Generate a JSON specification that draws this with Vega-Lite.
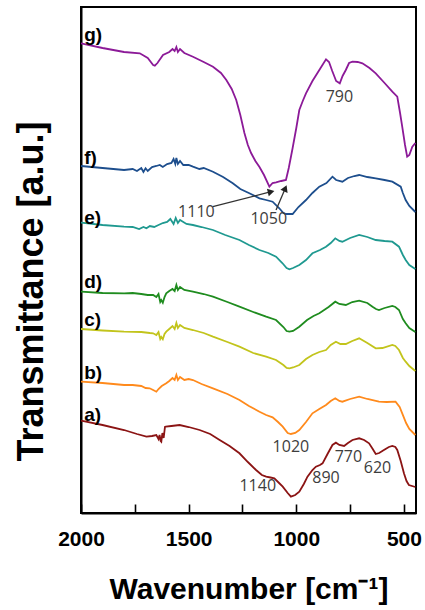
{
  "$schema": "https://vega.github.io/schema/vega-lite/v6.json",
  "width": 335,
  "height": 506,
  "autosize": {"type": "none"},
  "padding": {"left": 81, "top": 7, "right": 9, "bottom": 97},
  "background": "white",
  "config": {
    "view": {"stroke": "black", "strokeWidth": 2},
    "axis": {"grid": false, "domainColor": "black", "domainWidth": 2}
  },
  "datasets": {
    "curves": [
      {"s":"g","wn":2000,"t":469.7},{"s":"g","wn":1900,"t":465},{"s":"g","wn":1800,"t":461},{"s":"g","wn":1727,"t":459.7},{"s":"g","wn":1690,"t":455},{"s":"g","wn":1665,"t":448},{"s":"g","wn":1657,"t":447.3},{"s":"g","wn":1645,"t":450},{"s":"g","wn":1619,"t":458},{"s":"g","wn":1590,"t":461},{"s":"g","wn":1575,"t":464},{"s":"g","wn":1565,"t":462},{"s":"g","wn":1557,"t":466},{"s":"g","wn":1550,"t":461},{"s":"g","wn":1540,"t":464},{"s":"g","wn":1520,"t":460},{"s":"g","wn":1480,"t":456.3},{"s":"g","wn":1430,"t":451},{"s":"g","wn":1387,"t":446.3},{"s":"g","wn":1350,"t":440},{"s":"g","wn":1325,"t":433},{"s":"g","wn":1300,"t":424},{"s":"g","wn":1279,"t":413},{"s":"g","wn":1260,"t":398},{"s":"g","wn":1241,"t":380},{"s":"g","wn":1225,"t":368},{"s":"g","wn":1210,"t":360},{"s":"g","wn":1190,"t":352},{"s":"g","wn":1171,"t":346},{"s":"g","wn":1150,"t":338},{"s":"g","wn":1125,"t":326.3},{"s":"g","wn":1110,"t":330},{"s":"g","wn":1094,"t":330.7},{"s":"g","wn":1070,"t":332},{"s":"g","wn":1048,"t":333},{"s":"g","wn":1035,"t":345},{"s":"g","wn":1017,"t":365},{"s":"g","wn":1000,"t":385},{"s":"g","wn":986,"t":403},{"s":"g","wn":970,"t":412},{"s":"g","wn":955,"t":419.7},{"s":"g","wn":925,"t":432},{"s":"g","wn":893,"t":443},{"s":"g","wn":862,"t":453.7},{"s":"g","wn":848,"t":451},{"s":"g","wn":833,"t":442},{"s":"g","wn":815,"t":432},{"s":"g","wn":798,"t":429.7},{"s":"g","wn":785,"t":437},{"s":"g","wn":770,"t":443},{"s":"g","wn":755,"t":450},{"s":"g","wn":739,"t":451.3},{"s":"g","wn":715,"t":451},{"s":"g","wn":693,"t":449.7},{"s":"g","wn":660,"t":445},{"s":"g","wn":631,"t":439.7},{"s":"g","wn":590,"t":430},{"s":"g","wn":554,"t":421.3},{"s":"g","wn":531,"t":416.3},{"s":"g","wn":518,"t":400},{"s":"g","wn":508,"t":386.3},{"s":"g","wn":495,"t":368},{"s":"g","wn":485,"t":356.3},{"s":"g","wn":475,"t":358},{"s":"g","wn":461,"t":366.3},{"s":"g","wn":447,"t":370},
      {"s":"f","wn":2000,"t":347},{"s":"f","wn":1900,"t":345},{"s":"f","wn":1800,"t":343},{"s":"f","wn":1760,"t":344},{"s":"f","wn":1740,"t":342},{"s":"f","wn":1720,"t":345},{"s":"f","wn":1710,"t":341},{"s":"f","wn":1700,"t":344.7},{"s":"f","wn":1690,"t":342},{"s":"f","wn":1670,"t":346},{"s":"f","wn":1650,"t":347},{"s":"f","wn":1634,"t":348},{"s":"f","wn":1620,"t":346},{"s":"f","wn":1600,"t":349},{"s":"f","wn":1580,"t":350},{"s":"f","wn":1570,"t":354},{"s":"f","wn":1562,"t":349},{"s":"f","wn":1557,"t":355},{"s":"f","wn":1550,"t":349},{"s":"f","wn":1540,"t":352},{"s":"f","wn":1525,"t":348},{"s":"f","wn":1500,"t":348},{"s":"f","wn":1480,"t":346.3},{"s":"f","wn":1450,"t":344},{"s":"f","wn":1430,"t":345},{"s":"f","wn":1387,"t":341.3},{"s":"f","wn":1340,"t":336},{"s":"f","wn":1295,"t":329.7},{"s":"f","wn":1260,"t":324},{"s":"f","wn":1218,"t":319.7},{"s":"f","wn":1171,"t":314.7},{"s":"f","wn":1140,"t":313},{"s":"f","wn":1110,"t":311.3},{"s":"f","wn":1080,"t":305},{"s":"f","wn":1060,"t":300},{"s":"f","wn":1048,"t":299},{"s":"f","wn":1017,"t":299},{"s":"f","wn":990,"t":306},{"s":"f","wn":955,"t":313},{"s":"f","wn":925,"t":320},{"s":"f","wn":893,"t":326.3},{"s":"f","wn":860,"t":330},{"s":"f","wn":832,"t":336.3},{"s":"f","wn":815,"t":333},{"s":"f","wn":786,"t":331.3},{"s":"f","wn":760,"t":335},{"s":"f","wn":730,"t":337},{"s":"f","wn":708,"t":338},{"s":"f","wn":670,"t":336},{"s":"f","wn":631,"t":334.7},{"s":"f","wn":590,"t":333},{"s":"f","wn":554,"t":331.3},{"s":"f","wn":515,"t":326.3},{"s":"f","wn":505,"t":320},{"s":"f","wn":492,"t":313},{"s":"f","wn":475,"t":307},{"s":"f","wn":447,"t":301},
      {"s":"e","wn":2000,"t":290.3},{"s":"e","wn":1900,"t":288},{"s":"e","wn":1800,"t":286.3},{"s":"e","wn":1760,"t":286},{"s":"e","wn":1730,"t":284},{"s":"e","wn":1710,"t":286},{"s":"e","wn":1696,"t":284.7},{"s":"e","wn":1680,"t":287},{"s":"e","wn":1660,"t":286},{"s":"e","wn":1640,"t":288},{"s":"e","wn":1620,"t":290},{"s":"e","wn":1600,"t":291},{"s":"e","wn":1585,"t":294},{"s":"e","wn":1570,"t":289},{"s":"e","wn":1560,"t":295},{"s":"e","wn":1550,"t":290},{"s":"e","wn":1540,"t":293},{"s":"e","wn":1510,"t":289},{"s":"e","wn":1480,"t":288},{"s":"e","wn":1440,"t":286},{"s":"e","wn":1387,"t":283},{"s":"e","wn":1330,"t":278},{"s":"e","wn":1264,"t":273},{"s":"e","wn":1220,"t":268},{"s":"e","wn":1171,"t":263},{"s":"e","wn":1130,"t":260},{"s":"e","wn":1094,"t":256.3},{"s":"e","wn":1065,"t":250},{"s":"e","wn":1045,"t":245},{"s":"e","wn":1032,"t":243.7},{"s":"e","wn":1015,"t":245},{"s":"e","wn":986,"t":248},{"s":"e","wn":955,"t":253},{"s":"e","wn":925,"t":259.7},{"s":"e","wn":890,"t":263},{"s":"e","wn":862,"t":266.3},{"s":"e","wn":840,"t":270},{"s":"e","wn":819,"t":274.7},{"s":"e","wn":800,"t":272},{"s":"e","wn":786,"t":271.3},{"s":"e","wn":750,"t":275},{"s":"e","wn":708,"t":278},{"s":"e","wn":670,"t":276},{"s":"e","wn":631,"t":273},{"s":"e","wn":590,"t":272},{"s":"e","wn":554,"t":271.3},{"s":"e","wn":523,"t":266.3},{"s":"e","wn":505,"t":258},{"s":"e","wn":492,"t":253},{"s":"e","wn":475,"t":248},{"s":"e","wn":447,"t":244},
      {"s":"d","wn":2000,"t":221.3},{"s":"d","wn":1900,"t":220},{"s":"d","wn":1800,"t":219.7},{"s":"d","wn":1760,"t":220},{"s":"d","wn":1720,"t":219},{"s":"d","wn":1690,"t":218},{"s":"d","wn":1665,"t":218},{"s":"d","wn":1650,"t":216},{"s":"d","wn":1640,"t":219},{"s":"d","wn":1632,"t":211},{"s":"d","wn":1627,"t":213},{"s":"d","wn":1620,"t":210.3},{"s":"d","wn":1612,"t":216},{"s":"d","wn":1604,"t":219.7},{"s":"d","wn":1590,"t":222},{"s":"d","wn":1575,"t":224},{"s":"d","wn":1565,"t":222},{"s":"d","wn":1557,"t":228},{"s":"d","wn":1550,"t":223},{"s":"d","wn":1540,"t":226},{"s":"d","wn":1520,"t":223},{"s":"d","wn":1480,"t":221.3},{"s":"d","wn":1430,"t":219},{"s":"d","wn":1387,"t":216.3},{"s":"d","wn":1320,"t":211},{"s":"d","wn":1264,"t":206.3},{"s":"d","wn":1200,"t":201},{"s":"d","wn":1140,"t":196.3},{"s":"d","wn":1094,"t":193},{"s":"d","wn":1060,"t":186},{"s":"d","wn":1045,"t":182},{"s":"d","wn":1032,"t":181.3},{"s":"d","wn":1015,"t":182},{"s":"d","wn":986,"t":186.3},{"s":"d","wn":950,"t":193},{"s":"d","wn":920,"t":197},{"s":"d","wn":893,"t":199.7},{"s":"d","wn":850,"t":206},{"s":"d","wn":819,"t":211.3},{"s":"d","wn":800,"t":209},{"s":"d","wn":770,"t":208},{"s":"d","wn":740,"t":211},{"s":"d","wn":708,"t":212.3},{"s":"d","wn":670,"t":210},{"s":"d","wn":646,"t":206.3},{"s":"d","wn":630,"t":204},{"s":"d","wn":616,"t":203},{"s":"d","wn":590,"t":205},{"s":"d","wn":554,"t":207},{"s":"d","wn":540,"t":206},{"s":"d","wn":523,"t":203},{"s":"d","wn":505,"t":194},{"s":"d","wn":492,"t":189.7},{"s":"d","wn":475,"t":185},{"s":"d","wn":447,"t":181},
      {"s":"c","wn":2000,"t":184},{"s":"c","wn":1900,"t":182.5},{"s":"c","wn":1800,"t":181.3},{"s":"c","wn":1720,"t":181},{"s":"c","wn":1680,"t":180},{"s":"c","wn":1665,"t":179.7},{"s":"c","wn":1650,"t":178},{"s":"c","wn":1640,"t":181},{"s":"c","wn":1632,"t":174},{"s":"c","wn":1627,"t":176},{"s":"c","wn":1620,"t":173.7},{"s":"c","wn":1612,"t":179},{"s":"c","wn":1604,"t":181.3},{"s":"c","wn":1590,"t":184},{"s":"c","wn":1575,"t":187},{"s":"c","wn":1565,"t":184},{"s":"c","wn":1557,"t":190},{"s":"c","wn":1550,"t":185},{"s":"c","wn":1540,"t":188},{"s":"c","wn":1520,"t":185},{"s":"c","wn":1480,"t":183},{"s":"c","wn":1430,"t":180},{"s":"c","wn":1387,"t":176.3},{"s":"c","wn":1320,"t":171},{"s":"c","wn":1264,"t":166.3},{"s":"c","wn":1200,"t":160},{"s":"c","wn":1140,"t":156.3},{"s":"c","wn":1094,"t":153},{"s":"c","wn":1060,"t":148},{"s":"c","wn":1045,"t":145},{"s":"c","wn":1032,"t":144.7},{"s":"c","wn":1015,"t":145.5},{"s":"c","wn":986,"t":148},{"s":"c","wn":955,"t":154},{"s":"c","wn":925,"t":158},{"s":"c","wn":893,"t":161},{"s":"c","wn":862,"t":163},{"s":"c","wn":840,"t":168},{"s":"c","wn":816,"t":171.3},{"s":"c","wn":795,"t":169},{"s":"c","wn":770,"t":169},{"s":"c","wn":740,"t":172},{"s":"c","wn":708,"t":174.7},{"s":"c","wn":670,"t":170},{"s":"c","wn":631,"t":164.7},{"s":"c","wn":600,"t":165},{"s":"c","wn":554,"t":168},{"s":"c","wn":540,"t":167},{"s":"c","wn":523,"t":163},{"s":"c","wn":505,"t":155},{"s":"c","wn":492,"t":151.3},{"s":"c","wn":475,"t":147},{"s":"c","wn":447,"t":142},
      {"s":"b","wn":2000,"t":131.3},{"s":"b","wn":1900,"t":130},{"s":"b","wn":1800,"t":128},{"s":"b","wn":1760,"t":128},{"s":"b","wn":1720,"t":127},{"s":"b","wn":1700,"t":125},{"s":"b","wn":1681,"t":124.7},{"s":"b","wn":1665,"t":123},{"s":"b","wn":1650,"t":121.3},{"s":"b","wn":1640,"t":124},{"s":"b","wn":1625,"t":127},{"s":"b","wn":1604,"t":129.7},{"s":"b","wn":1590,"t":132},{"s":"b","wn":1575,"t":135},{"s":"b","wn":1565,"t":133},{"s":"b","wn":1557,"t":138},{"s":"b","wn":1550,"t":133},{"s":"b","wn":1540,"t":136},{"s":"b","wn":1520,"t":133},{"s":"b","wn":1500,"t":134},{"s":"b","wn":1480,"t":133},{"s":"b","wn":1440,"t":129},{"s":"b","wn":1387,"t":124.7},{"s":"b","wn":1320,"t":119},{"s":"b","wn":1264,"t":113},{"s":"b","wn":1220,"t":107},{"s":"b","wn":1171,"t":101.3},{"s":"b","wn":1140,"t":98},{"s":"b","wn":1110,"t":95.7},{"s":"b","wn":1085,"t":91},{"s":"b","wn":1063,"t":86.3},{"s":"b","wn":1040,"t":80},{"s":"b","wn":1025,"t":79},{"s":"b","wn":1005,"t":80},{"s":"b","wn":986,"t":83},{"s":"b","wn":955,"t":91},{"s":"b","wn":925,"t":99.7},{"s":"b","wn":893,"t":104},{"s":"b","wn":862,"t":108},{"s":"b","wn":840,"t":112},{"s":"b","wn":819,"t":114.7},{"s":"b","wn":800,"t":112},{"s":"b","wn":786,"t":111.3},{"s":"b","wn":750,"t":114},{"s":"b","wn":708,"t":116.3},{"s":"b","wn":670,"t":114},{"s":"b","wn":616,"t":111.3},{"s":"b","wn":580,"t":111},{"s":"b","wn":539,"t":111.3},{"s":"b","wn":520,"t":106},{"s":"b","wn":508,"t":99.7},{"s":"b","wn":490,"t":90},{"s":"b","wn":475,"t":84},{"s":"b","wn":447,"t":78},
      {"s":"a","wn":2000,"t":92.3},{"s":"a","wn":1900,"t":88},{"s":"a","wn":1800,"t":83},{"s":"a","wn":1740,"t":79},{"s":"a","wn":1696,"t":76.3},{"s":"a","wn":1670,"t":77},{"s":"a","wn":1650,"t":78},{"s":"a","wn":1640,"t":74},{"s":"a","wn":1635,"t":78},{"s":"a","wn":1630,"t":72},{"s":"a","wn":1627,"t":71.3},{"s":"a","wn":1622,"t":80},{"s":"a","wn":1616,"t":75},{"s":"a","wn":1610,"t":86},{"s":"a","wn":1606,"t":86.3},{"s":"a","wn":1580,"t":87},{"s":"a","wn":1542,"t":88},{"s":"a","wn":1500,"t":86},{"s":"a","wn":1449,"t":83},{"s":"a","wn":1400,"t":79},{"s":"a","wn":1356,"t":73},{"s":"a","wn":1310,"t":67},{"s":"a","wn":1264,"t":59.7},{"s":"a","wn":1225,"t":51},{"s":"a","wn":1187,"t":43},{"s":"a","wn":1160,"t":38},{"s":"a","wn":1140,"t":36.3},{"s":"a","wn":1120,"t":35.5},{"s":"a","wn":1102,"t":34.7},{"s":"a","wn":1080,"t":30},{"s":"a","wn":1063,"t":26.3},{"s":"a","wn":1040,"t":20},{"s":"a","wn":1025,"t":16.3},{"s":"a","wn":1005,"t":18},{"s":"a","wn":986,"t":21.3},{"s":"a","wn":965,"t":29},{"s":"a","wn":948,"t":36.3},{"s":"a","wn":925,"t":43},{"s":"a","wn":909,"t":46.3},{"s":"a","wn":890,"t":48},{"s":"a","wn":878,"t":49.7},{"s":"a","wn":855,"t":59},{"s":"a","wn":832,"t":68},{"s":"a","wn":816,"t":70.3},{"s":"a","wn":800,"t":68},{"s":"a","wn":778,"t":67},{"s":"a","wn":760,"t":70},{"s":"a","wn":739,"t":73},{"s":"a","wn":708,"t":74.7},{"s":"a","wn":685,"t":73},{"s":"a","wn":662,"t":69.7},{"s":"a","wn":645,"t":64},{"s":"a","wn":631,"t":59},{"s":"a","wn":615,"t":60},{"s":"a","wn":593,"t":63},{"s":"a","wn":570,"t":66},{"s":"a","wn":554,"t":67},{"s":"a","wn":540,"t":66},{"s":"a","wn":531,"t":63},{"s":"a","wn":515,"t":52},{"s":"a","wn":500,"t":39.7},{"s":"a","wn":488,"t":32},{"s":"a","wn":477,"t":28},{"s":"a","wn":447,"t":26}
    ],
    "names": [
      {"lab":"g)","wn":1985,"t":478},{"lab":"f)","wn":1985,"t":355},{"lab":"e)","wn":1985,"t":295},{"lab":"d)","wn":1985,"t":231},{"lab":"c)","wn":1985,"t":193},{"lab":"b)","wn":1985,"t":140},{"lab":"a)","wn":1985,"t":98}
    ],
    "peaks": [
      {"lab":"790","wn":800,"t":416.3},{"lab":"1110","wn":1464,"t":301.3},{"lab":"1050","wn":1128,"t":293.7},{"lab":"1020","wn":1025,"t":65.7},{"lab":"1140","wn":1179,"t":27.3},{"lab":"890","wn":862,"t":34.7},{"lab":"770","wn":758,"t":56.3},{"lab":"620","wn":623,"t":44.7}
    ],
    "arrows": [
      {"id":1,"wn":1388,"t":306.3,"wn2":1117,"t2":321.3},
      {"id":2,"wn":1094,"t":303,"wn2":1051,"t2":324.7}
    ]
  },
  "encoding": {
    "x": {
      "field": "wn", "type": "quantitative",
      "scale": {"domain": [444, 2000], "reverse": true, "nice": false, "zero": false},
      "title": "Wavenumber [cm⁻¹]",
      "axis": {
        "values": [2000, 1750, 1500, 1250, 1000, 750, 500],
        "format": "d",
        "labelExpr": "datum.value % 500 === 0 ? datum.label : ''",
        "labelFont": "Liberation Sans", "labelFontWeight": "bold", "labelFontSize": 21, "labelColor": "black",
        "labelFlush": false, "labelOverlap": false, "labelPadding": 24,
        "ticks": true,
        "tickSize": -9,
        "tickColor": "black", "tickWidth": 1.6,
        "titleFont": "Liberation Sans", "titleFontWeight": "bold", "titleFontSize": 30, "titleColor": "black", "titlePadding": 25
      }
    },
    "y": {
      "field": "t", "type": "quantitative",
      "scale": {"domain": [0, 506], "nice": false, "zero": false},
      "title": "Transmittance [a.u.]",
      "axis": {
        "ticks": false, "labels": false,
        "titleFont": "Liberation Sans", "titleFontWeight": "bold", "titleFontSize": 36, "titleColor": "black",
        "titlePadding": 31, "titleY": 284
      }
    }
  },
  "layer": [
    {
      "data": {"name": "curves"},
      "mark": {"type": "line", "strokeWidth": 1.8, "clip": true},
      "encoding": {
        "color": {
          "field": "s", "type": "nominal",
          "scale": {"domain": ["a","b","c","d","e","f","g"], "range": ["#8B1414","#FF8A1C","#C2C41C","#1F8C1F","#1F9990","#1D4E8D","#8C1A98"]},
          "legend": null
        }
      }
    },
    {
      "data": {"name": "names"},
      "mark": {"type": "text", "align": "left", "baseline": "middle", "font": "Liberation Sans", "fontWeight": "bold", "fontSize": 19, "color": "black"},
      "encoding": {"text": {"field": "lab"}}
    },
    {
      "data": {"name": "peaks"},
      "mark": {"type": "text", "align": "center", "baseline": "middle", "font": "Open Sans", "fontSize": 16, "color": "#3d3d3d"},
      "encoding": {"text": {"field": "lab"}}
    },
    {
      "data": {"name": "arrows"},
      "mark": {"type": "rule", "color": "#333333", "strokeWidth": 1.3},
      "encoding": {"x2": {"field": "wn2"}, "y2": {"field": "t2"}}
    },
    {
      "data": {"name": "arrows"},
      "transform": [{"filter": "datum.id === 1"}],
      "mark": {"type": "point", "shape": "triangle-up", "filled": true, "size": 60, "angle": 76, "color": "#222222", "opacity": 1},
      "encoding": {"x": {"field": "wn2", "type": "quantitative"}, "y": {"field": "t2", "type": "quantitative"}}
    },
    {
      "data": {"name": "arrows"},
      "transform": [{"filter": "datum.id === 2"}],
      "mark": {"type": "point", "shape": "triangle-up", "filled": true, "size": 60, "angle": 23, "color": "#222222", "opacity": 1},
      "encoding": {"x": {"field": "wn2", "type": "quantitative"}, "y": {"field": "t2", "type": "quantitative"}}
    }
  ]
}
